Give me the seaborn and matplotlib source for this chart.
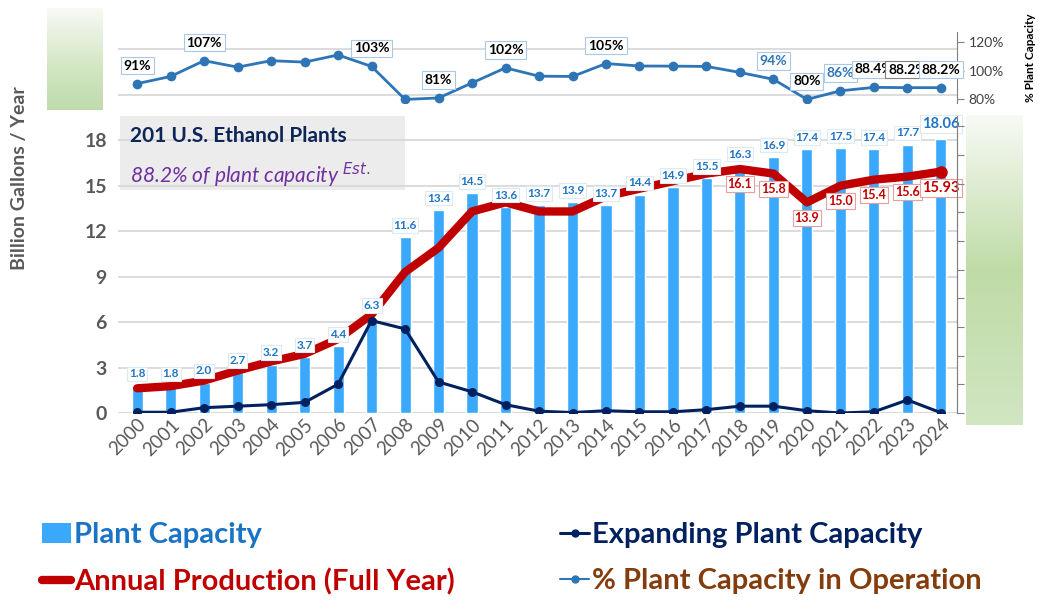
import numpy as np
import pandas as pd
import seaborn as sns
from matplotlib import pyplot as plt
from matplotlib.lines import Line2D
from matplotlib.patches import Patch, Rectangle

# ---- data ----
years = [str(y) for y in range(2000, 2025)]
capacity = [1.8, 1.8, 2.0, 2.7, 3.2, 3.7, 4.4, 6.3, 11.6, 13.4, 14.5, 13.6, 13.7,
            13.9, 13.7, 14.4, 14.9, 15.5, 16.3, 16.9, 17.4, 17.5, 17.4, 17.7, 18.06]
production = [1.63, 1.77, 2.14, 2.8, 3.4, 3.9, 4.88, 6.5, 9.3, 10.9, 13.3, 13.9, 13.3,
              13.3, 14.3, 14.8, 15.3, 15.8, 16.1, 15.8, 13.9, 15.0, 15.4, 15.6, 15.93]
expanding = [0.05, 0.05, 0.35, 0.45, 0.55, 0.7, 1.9, 6.1, 5.55, 2.05, 1.4, 0.55, 0.12,
             0.03, 0.15, 0.08, 0.08, 0.22, 0.45, 0.45, 0.15, 0.0, 0.08, 0.86, 0.02]
pct_capacity = [91, 96, 107, 102.5, 107, 106, 111, 103, 80, 81, 91.5, 102, 96.2,
                96, 105, 103.3, 103.2, 103, 98.8, 94, 80, 86, 88.4, 88.2, 88.2]
pct_labels = {0: "91%", 2: "107%", 7: "103%", 9: "81%", 11: "102%", 14: "105%",
              19: "94%", 20: "80%", 21: "86%", 22: "88.4%", 23: "88.2%", 24: "88.2%"}
prod_label_from = 18

df = pd.DataFrame({"year": years, "pos": np.arange(len(years)), "capacity": capacity,
                   "production": production, "expanding": expanding,
                   "pct": pct_capacity})

BAR = "#3aa8fb"
RED = "#c00000"
NAVY = "#002060"
LINEBLUE = "#2e75b6"
LABELBLUE = "#1f74c4"
GRAY = "#595959"

sns.set_style("white")
plt.rcParams["font.family"] = ["Lato", "DejaVu Sans"]

fig = plt.figure(figsize=(10.39, 6), dpi=100)
W, H = 1039, 600


def px_axes(x0, y0, x1, y1, **kw):
    return fig.add_axes([x0 / W, 1 - y1 / H, (x1 - x0) / W, (y1 - y0) / H], **kw)


# green gradient decorations
def gradient(ax, stops):
    t = np.linspace(0, 1, 256)
    cols = np.array([np.interp(t, [s[0] for s in stops], [s[1][i] for s in stops]) for i in range(3)]).T
    ax.imshow(cols[:, None, :], aspect="auto", extent=[0, 1, 0, 1])
    ax.axis("off")


gradient(px_axes(47, 8, 103, 110), [(0, (0.97, 0.98, 0.96)), (0.6, (0.82, 0.9, 0.76)), (1, (0.75, 0.86, 0.67))])
gradient(px_axes(966, 115, 1022, 425), [(0, (0.97, 0.98, 0.96)), (0.5, (0.75, 0.86, 0.65)), (1, (0.82, 0.9, 0.76))])

# ---- main axes ----
ax = px_axes(118, 116, 957, 413)
sns.barplot(data=df, x="year", y="capacity", color=BAR, width=0.33, saturation=1, ax=ax)
sns.lineplot(data=df, x="pos", y="production", color=RED, linewidth=6, ax=ax,
             solid_capstyle="round", zorder=4)
ax.plot(df["pos"].iloc[-1], production[-1], "o", color=RED, ms=8, zorder=4)
sns.lineplot(data=df, x="pos", y="expanding", color=NAVY, linewidth=2.2, marker="o",
             markersize=6.5, markeredgewidth=0, ax=ax, zorder=5)

ax.set_xlim(-0.57, 24.48)
ax.set_ylim(0, 19.6)
ax.set_yticks(range(0, 19, 3))
ax.yaxis.grid(True, color="#d9d9d9", linewidth=1.3)
ax.set_axisbelow(True)
for s in ["top", "left", "bottom"]:
    ax.spines[s].set_visible(False)
ax.spines["right"].set_color("#808080")
ax.set_xlabel("")
ax.set_ylabel("")
ax.tick_params(axis="y", length=0, labelsize=14, labelcolor=GRAY, pad=8)
for lab in ax.get_yticklabels():
    lab.set_fontweight("bold")
ax.tick_params(axis="x", length=0, labelsize=13.5, labelcolor=GRAY, pad=2)
plt.setp(ax.get_xticklabels(), rotation=45, ha="right", rotation_mode="anchor")
ax.axhline(0, color="#d9d9d9", linewidth=1.5, zorder=0)

# right-side unlabeled ticks (secondary scale)
ax2 = ax.twinx()
ax2.set_ylim(0, 19.6)
ax2.set_yticks(np.linspace(0, 19.6 * 0.965, 11))
ax2.tick_params(axis="y", length=5, color="#808080", labelright=False)
for s in ["top", "left", "bottom"]:
    ax2.spines[s].set_visible(False)
ax2.spines["right"].set_color("#808080")

# bar labels
for i, v in enumerate(capacity):
    big = i == len(capacity) - 1
    ax.annotate(f"{v:.2f}" if big else f"{v:.1f}", (i, v), xytext=(0, 11 if big else 8.5),
                textcoords="offset points", ha="center", va="center",
                fontsize=10.5 if big else 8.5, fontweight="bold", color=LABELBLUE, zorder=6,
                bbox=dict(boxstyle="square,pad=0.15", fc="white", ec="#dce9f6", lw=0.8))

# production labels
for i in range(prod_label_from, len(production)):
    v = production[i]
    big = i == len(production) - 1
    ax.annotate(f"{v:.2f}" if big else f"{v:.1f}", (i, v), xytext=(0, -12 if big else -11),
                textcoords="offset points", ha="center", va="center",
                fontsize=10.5 if big else 9, fontweight="bold", color=RED, zorder=6,
                bbox=dict(boxstyle="square,pad=0.15", fc="white", ec="#e6a0a0", lw=0.8))

# info box
ax.add_patch(Rectangle((120 / W, 1 - 190 / H), 285 / W, 74 / H, transform=fig.transFigure,
                       facecolor="#ececec", edgecolor="none", zorder=0))
fig.text(130 / W, 1 - 136 / H, "201 U.S. Ethanol Plants", fontsize=15, fontweight="bold",
         color="#0e2557", va="center")
fig.text(130 / W, 1 - 175 / H, "88.2% of plant capacity $^{Est.}$", fontsize=15, style="italic",
         color="#7030a0", va="center")

fig.text(20 / W, 1 - 178 / H, "Billion Gallons / Year", rotation=90, fontsize=14,
         fontweight="bold", color=GRAY, ha="center", va="center")

# ---- top panel: % capacity ----
axt = px_axes(118, 32, 957, 103)
sns.lineplot(data=df, x="pos", y="pct", color=LINEBLUE, linewidth=2, marker="o",
             markersize=7, markeredgewidth=0, ax=axt)
axt.set_xlim(-0.57, 24.48)
axt.set_ylim(77.5, 127)
axt.axhline(83, color="#d9d9d9", lw=1.3, zorder=0)
axt.axhline(115, color="#d9d9d9", lw=1.3, zorder=0)
axt.set_xticks([])
axt.set_xlabel("")
axt.set_ylabel("")
axt.yaxis.tick_right()
axt.set_yticks([80, 100, 120])
axt.set_yticklabels(["80%", "100%", "120%"])
axt.tick_params(axis="y", length=5, color="#808080", labelsize=10, labelcolor="#404040")
for s in ["top", "left", "bottom"]:
    axt.spines[s].set_visible(False)
axt.spines["right"].set_color("#808080")
axt.patch.set_alpha(0)
fig.text(1030 / W, 1 - 58 / H, "% Plant Capacity", rotation=90, fontsize=8.5, fontweight="bold",
         color="black", ha="center", va="center")

blue_text = {19, 21}
for i, txt in pct_labels.items():
    axt.annotate(txt, (i, pct_capacity[i]), xytext=(0, 13), textcoords="offset points",
                 ha="center", va="center", fontsize=10, fontweight="bold",
                 color=LINEBLUE if i in blue_text else "black",
                 bbox=dict(boxstyle="square,pad=0.2", fc="white",
                           ec="#808080" if i == 23 else "#a9c8e8", lw=0.8))

# ---- legend (two columns placed separately) ----
leg_kw = dict(frameon=False, handlelength=1.0, handletextpad=0.1, labelspacing=0.7,
              borderaxespad=0, borderpad=0, prop=dict(weight="bold", size=21))
fig.legend([Patch(facecolor=BAR, edgecolor="none"), Line2D([], [], color=RED, lw=6)],
           ["Plant Capacity", "Annual Production (Full Year)"],
           loc="upper left", bbox_to_anchor=(42 / W, 1 - 522 / H),
           labelcolor=["#1a74c6", RED], **leg_kw)
fig.legend([Line2D([], [], color=NAVY, lw=2.2, marker="o", ms=5),
            Line2D([], [], color=LINEBLUE, lw=1.5, marker="o", ms=5)],
           ["Expanding Plant Capacity", "% Plant Capacity in Operation"],
           loc="upper left", bbox_to_anchor=(560 / W, 1 - 522 / H),
           labelcolor=[NAVY, "#843c0c"], **leg_kw)

fig.savefig("out.png", dpi=100)
